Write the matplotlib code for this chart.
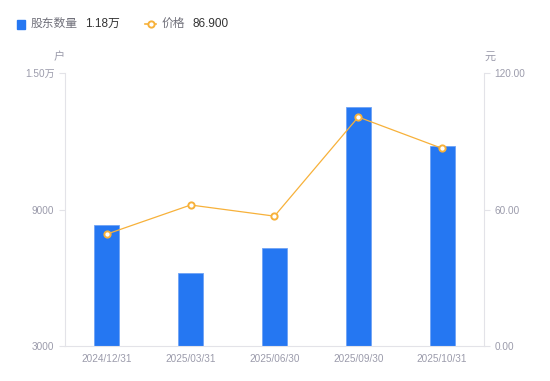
import matplotlib
matplotlib.use("Agg")
from matplotlib import pyplot as plt
from matplotlib.lines import Line2D

plt.rcParams['font.family'] = ['Liberation Sans', 'Noto Sans CJK SC', 'DejaVu Sans']

dates = ["2024/12/31", "2025/03/31", "2025/06/30", "2025/09/30", "2025/10/31"]
holders = [8300, 6200, 7300, 13500, 11800]
price = [49.2, 62.0, 57.1, 100.7, 86.9]

bar_color = "#2577F2"
line_color = "#F7B13A"
tick_color = "#9B9BAB"
axis_color = "#E3E3E8"

fig = plt.figure(figsize=(5.5, 3.81), dpi=100)
ax = fig.add_axes([0.118, 0.092, 0.762, 0.716])
ax2 = ax.twinx()

x = list(range(len(dates)))
ax.bar(x, holders, width=0.3, color=bar_color, edgecolor="#6FA3F5", linewidth=0.6, zorder=2)
ax.set_ylim(3000, 15000)
ax.set_xlim(-0.5, len(dates) - 0.5)
ax.set_yticks([3000, 9000, 15000])
ax.set_yticklabels(["3000", "9000", "1.50万"])
ax.set_xticks(x)
ax.set_xticklabels(dates)

ax2.plot(x, price, color=line_color, linewidth=0.9, marker="o", markersize=4.5,
         markerfacecolor="white", markeredgecolor=line_color, markeredgewidth=1.4, zorder=3)
ax2.set_ylim(0, 120)
ax2.set_yticks([0, 60, 120])
ax2.set_yticklabels(["0.00", "60.00", "120.00"])

for a in (ax, ax2):
    for s in a.spines.values():
        s.set_visible(False)
    a.tick_params(colors=tick_color, labelsize=7.2, length=4, width=0.8)
    a.tick_params(axis="y", color=axis_color)
ax.tick_params(axis="x", length=0, pad=6)
ax.spines["left"].set_visible(True)
ax.spines["left"].set_color(axis_color)
ax.spines["bottom"].set_visible(True)
ax.spines["bottom"].set_color(axis_color)
ax2.spines["right"].set_visible(True)
ax2.spines["right"].set_color(axis_color)
ax.set_zorder(1)
ax2.set_zorder(2)
ax2.patch.set_visible(False)

fig.text(59 / 550, 1 - 57 / 381, "户", color=tick_color, fontsize=8, ha="center", va="center")
fig.text(490 / 550, 1 - 57 / 381, "元", color=tick_color, fontsize=8, ha="center", va="center")

# legend
fig.patches.append(plt.Rectangle((17 / 550, 1 - 29 / 381), 8 / 550, 9 / 381,
                                 transform=fig.transFigure, color=bar_color, figure=fig))
fig.text(31 / 550, 1 - 24 / 381, "股东数量", color="#70707A", fontsize=8.5, va="center")
fig.text(85 / 550, 1 - 24 / 381, "1.18万", color="#333333", fontsize=8.5, va="center")
fig.lines.append(Line2D([145 / 550, 156 / 550], [1 - 24 / 381, 1 - 24 / 381], transform=fig.transFigure,
                        color=line_color, linewidth=1.2))
fig.lines.append(Line2D([150.5 / 550], [1 - 24 / 381], transform=fig.transFigure,
                        color=line_color, marker="o", markersize=4.5, markerfacecolor="white",
                        markeredgecolor=line_color, markeredgewidth=1.4, linestyle="none"))
fig.text(162 / 550, 1 - 24 / 381, "价格", color="#70707A", fontsize=8.5, va="center")
fig.text(192 / 550, 1 - 24 / 381, "86.900", color="#333333", fontsize=8.5, va="center")

fig.savefig("out.png", dpi=100)
